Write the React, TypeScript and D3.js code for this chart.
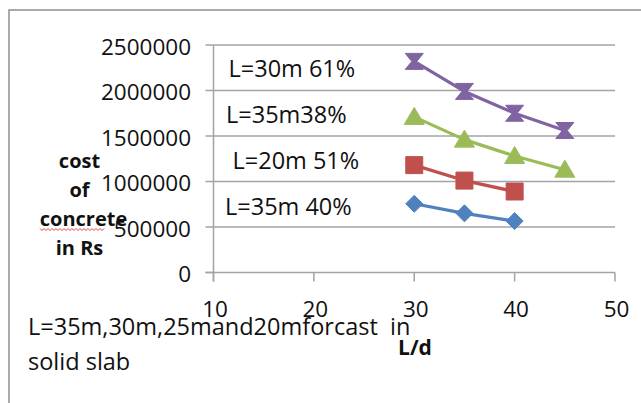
import React from "react";
import * as d3 from "d3";

// ---- data ----
const ldValues = [30, 35, 40, 45];
const costL35_40 = [755000, 650000, 565000];
const costL20_51 = [1180000, 1010000, 890000];
const costL35_38 = [1710000, 1460000, 1280000, 1130000];
const costL30_61 = [2320000, 1990000, 1750000, 1560000];
const seriesNames = ["L=35m 40%", "L=20m 51%", "L=35m38%", "L=30m 61%"];
const xTicks = [10, 20, 30, 40, 50];
const yTicks = [0, 500000, 1000000, 1500000, 2000000, 2500000];
const yTitleLines = ["cost", "of", "concrete", "in Rs"];
const xTitle = "L/d";
const noteLines = ["L=35m,30m,25mand20mforcast  in", "solid slab"];

const W = 641;
const H = 403;
const FONT = "'Open Sans', 'Noto Sans', sans-serif";

const colors = ["#4f81bd", "#c0504d", "#9bbb59", "#8064a2"];
const markers = ["diamond", "square", "triangle", "hourglass"];

function markerPath(kind: string): string {
  switch (kind) {
    case "diamond":
      return "M0,-8.5L8.5,0L0,8.5L-8.5,0Z";
    case "square":
      return "M-8.5,-8.5H8.5V8.5H-8.5Z";
    case "triangle":
      return "M0,-9.5L10,7.5L-10,7.5Z";
    default:
      return "M-9,-8L9,-8L2.5,0L9,8L-9,8L-2.5,0Z";
  }
}

export default function App() {
  const x = d3.scaleLinear().domain([10, 50]).range([213.5, 615]);
  const y = d3.scaleLinear().domain([0, 2500000]).range([272.5, 45]);

  const allSeries = [costL35_40, costL20_51, costL35_38, costL30_61];
  const line = d3
    .line<[number, number]>()
    .x((d) => x(d[0]))
    .y((d) => y(d[1]));

  // annotation label positions (pixels)
  const notePos = [
    [225, 215],
    [232.5, 169],
    [226, 122.5],
    [228.5, 76.5],
  ];

  const grid = "#a3a3a3";

  return (
    <div style={{ position: "fixed", left: 0, top: 0, width: W, height: H, background: "#fff" }}>
      <svg width={W} height={H} style={{ display: "block" }} fontFamily={FONT}>
        <rect x={0} y={0} width={W} height={H} fill="#fff" />
        {/* chart frame */}
        <rect x={9} y={10} width={W + 40} height={H + 40} fill="none" stroke="#8e8e8e" strokeWidth={1.5} />

        {/* gridlines */}
        {yTicks.slice(1).map((t) => (
          <line key={"g" + t} x1={x(10)} x2={x(50)} y1={y(t)} y2={y(t)} stroke={grid} strokeWidth={1.5} />
        ))}
        {/* y axis */}
        <line x1={x(10)} x2={x(10)} y1={y(2500000)} y2={y(0) + 9} stroke={grid} strokeWidth={1.5} />
        {yTicks.map((t) => (
          <line key={"yt" + t} x1={x(10) - 8} x2={x(10)} y1={y(t)} y2={y(t)} stroke={grid} strokeWidth={1.5} />
        ))}
        {/* x axis */}
        <line x1={x(10) - 8} x2={x(50)} y1={y(0)} y2={y(0)} stroke={grid} strokeWidth={1.5} />
        {xTicks.map((t) => (
          <line key={"xt" + t} x1={x(t)} x2={x(t)} y1={y(0)} y2={y(0) + 9} stroke={grid} strokeWidth={1.5} />
        ))}

        {/* y tick labels */}
        {yTicks.map((t) => (
          <text key={"yl" + t} x={191} y={y(t) + 9.5} textAnchor="end" fontSize={22.5} fill="#111">
            {String(t)}
          </text>
        ))}
        {/* x tick labels */}
        {xTicks.map((t) => (
          <text key={"xl" + t} x={x(t) + 1.5} y={316.5} textAnchor="middle" fontSize={22.5} fill="#111">
            {String(t)}
          </text>
        ))}

        {/* series */}
        {allSeries.map((vals, i) => {
          const pts: [number, number][] = vals.map((v, j) => [ldValues[j], v]);
          return (
            <g key={"s" + i}>
              <path d={line(pts) || ""} fill="none" stroke={colors[i]} strokeWidth={3.2} strokeLinejoin="round" />
              {pts.map((p, j) => (
                <path
                  key={j}
                  d={markerPath(markers[i])}
                  transform={`translate(${x(p[0])},${y(p[1])})`}
                  fill={colors[i]}
                  stroke={colors[i]}
                  strokeWidth={1}
                />
              ))}
            </g>
          );
        })}

        {/* series annotations */}
        {seriesNames.map((n, i) => (
          <text key={"n" + i} x={notePos[i][0]} y={notePos[i][1]} fontSize={23.5} fill="#111">
            {n}
          </text>
        ))}

        {/* y axis title */}
        {yTitleLines.map((s, i) => (
          <text
            key={"yt" + i}
            x={i === 2 ? 83.5 : 79.5}
            y={167.5 + i * 29.2}
            textAnchor="middle"
            fontSize={20}
            fontWeight="bold"
            fill="#111"
          >
            {s}
          </text>
        ))}
        {/* spell-check squiggle */}
        <path
          d={d3.range(0, 33).map((k) => `${k === 0 ? "M" : "L"}${40 + k * 2},${k % 2 === 0 ? 228.5 : 230.5}`).join("")}
          fill="none"
          stroke="#e03030"
          strokeWidth={0.9}
        />

        {/* x axis title */}
        <text x={415} y={354.5} textAnchor="middle" fontSize={21} fontWeight="bold" fill="#111">
          {xTitle}
        </text>

        {/* bottom note */}
        {noteLines.map((s, i) => (
          <text key={"nl" + i} x={28} y={334.5 + i * 35.5} fontSize={23.5} fill="#111" style={{ whiteSpace: "pre" }}>
            {s}
          </text>
        ))}
      </svg>
    </div>
  );
}
